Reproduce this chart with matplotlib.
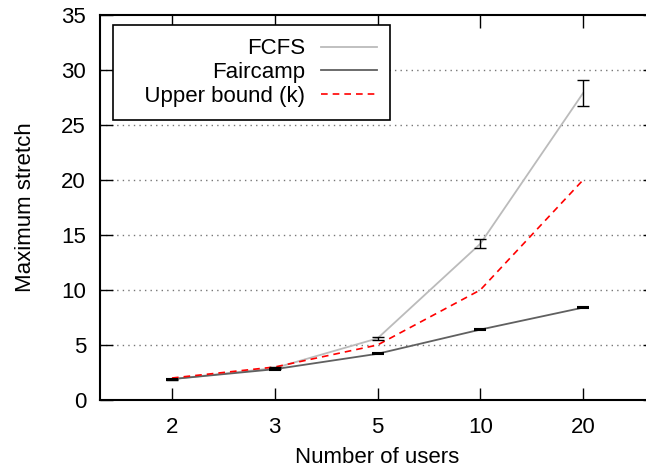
import matplotlib
matplotlib.use("Agg")
import matplotlib.pyplot as plt

# data
users = ["2", "3", "5", "10", "20"]
fcfs = [1.9, 2.9, 5.6, 14.2, 27.9]
fcfs_err = [0.05, 0.08, 0.15, 0.4, 1.2]
faircamp = [1.9, 2.8, 4.2, 6.4, 8.4]
faircamp_err = [0.04, 0.05, 0.05, 0.06, 0.08]
upper = [2, 3, 5, 10, 20]

plt.rcParams['font.family'] = ['Liberation Sans', 'DejaVu Sans']
plt.rcParams['font.size'] = 16

fig = plt.figure(figsize=(6.46, 4.68), dpi=100)
# right spine sits outside the picture, like the cropped original
ax = fig.add_axes([100 / 646, 1 - 400 / 468, 555 / 646, 385 / 468])

x = list(range(len(users)))

ax.plot(x, fcfs, color='#bbbbbb', lw=1.3, label='FCFS', zorder=3)
ax.errorbar(x, fcfs, yerr=fcfs_err, fmt='none', ecolor='black',
            elinewidth=1, capsize=4.5, capthick=1, zorder=4)
ax.plot(x, faircamp, color='#606060', lw=1.3, label='Faircamp', zorder=3)
ax.errorbar(x, faircamp, yerr=faircamp_err, fmt='none', ecolor='black',
            elinewidth=1, capsize=4.5, capthick=1.5, zorder=4)
ax.plot(x, upper, color='red', lw=1.2, ls=(0, (4, 3)),
        label='   Upper bound (k)', zorder=3)

ax.set_xlim(-0.7, 4.7)
ax.set_ylim(0, 35)
ax.set_xticks(x)
ax.set_xticklabels(users)
ax.set_yticks(range(0, 36, 5))

# dotted grid like gnuplot
for yv in range(5, 35, 5):
    ax.axhline(yv, color='#777777', lw=1, ls=(0, (1, 3)), zorder=1)

ax.tick_params(direction='in', length=9, width=1, top=True, right=True,
               labelsize=16)
ax.tick_params(axis='x', pad=12)
ax.tick_params(axis='y', pad=10)
for sp in ax.spines.values():
    sp.set_linewidth(1.5)

ax.set_xlabel('Number of users', fontsize=16, labelpad=7)
ax.set_ylabel('Maximum stretch', fontsize=16, labelpad=18)

# legend box spans about x 113..393, y 25..114 px
leg = ax.legend(loc='upper left', bbox_to_anchor=(13 / 555, 1 - 10 / 385),
                markerfirst=False, fancybox=False, framealpha=1,
                edgecolor='black', handlelength=2.5, borderpad=0.6,
                labelspacing=0.12, handletextpad=0.72, borderaxespad=0,
                fontsize=16)
leg.get_frame().set_linewidth(1.2)
for t in leg.get_texts():
    t.set_ha('right')
leg.set_zorder(5)

fig.savefig('out.png', dpi=100)
